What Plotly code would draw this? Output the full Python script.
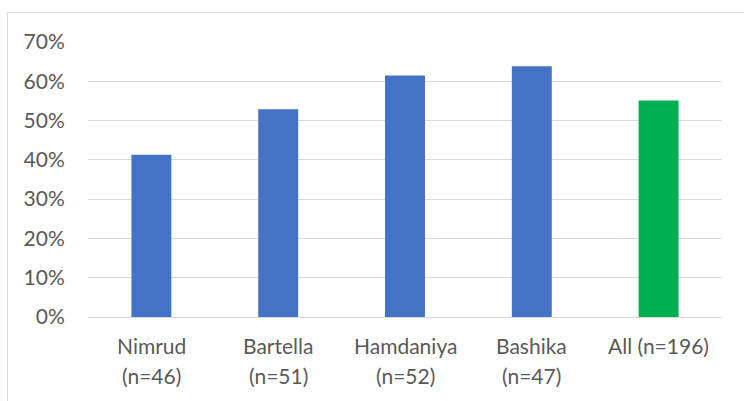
import plotly.graph_objects as go

# Share of respondents by sub-district, plus the overall figure
categories = ["Nimrud", "Bartella", "Hamdaniya", "Bashika", "All"]
values = [0.413, 0.529, 0.615, 0.638, 0.551]
label_line1 = ["Nimrud", "Bartella", "Hamdaniya", "Bashika", "All (n=196)"]
label_line2 = ["(n=46)", "(n=51)", "(n=52)", "(n=47)", ""]
bar_colors = ["#4472C4", "#4472C4", "#4472C4", "#4472C4", "#00B050"]

y_ticks = [0, 0.1, 0.2, 0.3, 0.4, 0.5, 0.6, 0.7]

W, H = 744, 401
ML, MR, MT, MB = 88, 22, 42, 84
TEXT = "#595959"
FONT = "Lato"
FS = 21

fig = go.Figure(
    go.Bar(
        x=categories,
        y=values,
        marker=dict(color=bar_colors, line=dict(width=0)),
        hoverinfo="skip",
    )
)

annotations = []
for cat, l1, l2 in zip(categories, label_line1, label_line2):
    annotations.append(dict(x=cat, y=0, xref="x", yref="y", text=l1,
                            showarrow=False, yanchor="middle", yshift=-28,
                            font=dict(family=FONT, size=FS, color=TEXT)))
    if l2:
        annotations.append(dict(x=cat, y=0, xref="x", yref="y", text=l2,
                                showarrow=False, yanchor="middle", yshift=-58,
                                font=dict(family=FONT, size=FS, color=TEXT)))

pw = W - ML - MR
ph = H - MT - MB
# light outer chart frame (runs off the right and bottom edges)
frame = dict(type="rect", xref="paper", yref="paper",
             x0=(7.5 - ML) / pw, x1=(W + 20 - ML) / pw,
             y0=-(H + 20 - MT - ph) / ph, y1=1 + (MT - 12.5) / ph,
             line=dict(color="#D9D9D9", width=1), fillcolor="rgba(0,0,0,0)",
             layer="below")

fig.update_layout(
    width=W, height=H,
    margin=dict(l=ML, r=MR, t=MT, b=MB, pad=0),
    paper_bgcolor="white", plot_bgcolor="white",
    bargap=0.685,
    showlegend=False,
    font=dict(family=FONT, size=FS, color=TEXT),
    annotations=annotations,
    shapes=[frame],
    xaxis=dict(showticklabels=False, showgrid=False, showline=False,
               zeroline=False, ticks="", fixedrange=True),
    yaxis=dict(range=[0, 0.7], tickvals=y_ticks, tickformat=".0%",
               showgrid=True, gridcolor="#D9D9D9", gridwidth=1,
               zeroline=True, zerolinecolor="#D9D9D9", zerolinewidth=1,
               showline=False, ticks="outside", ticklen=0,
               ticklabelstandoff=18,
               tickfont=dict(family=FONT, size=FS, color=TEXT),
               fixedrange=True),
)

fig.write_html("out.html")
